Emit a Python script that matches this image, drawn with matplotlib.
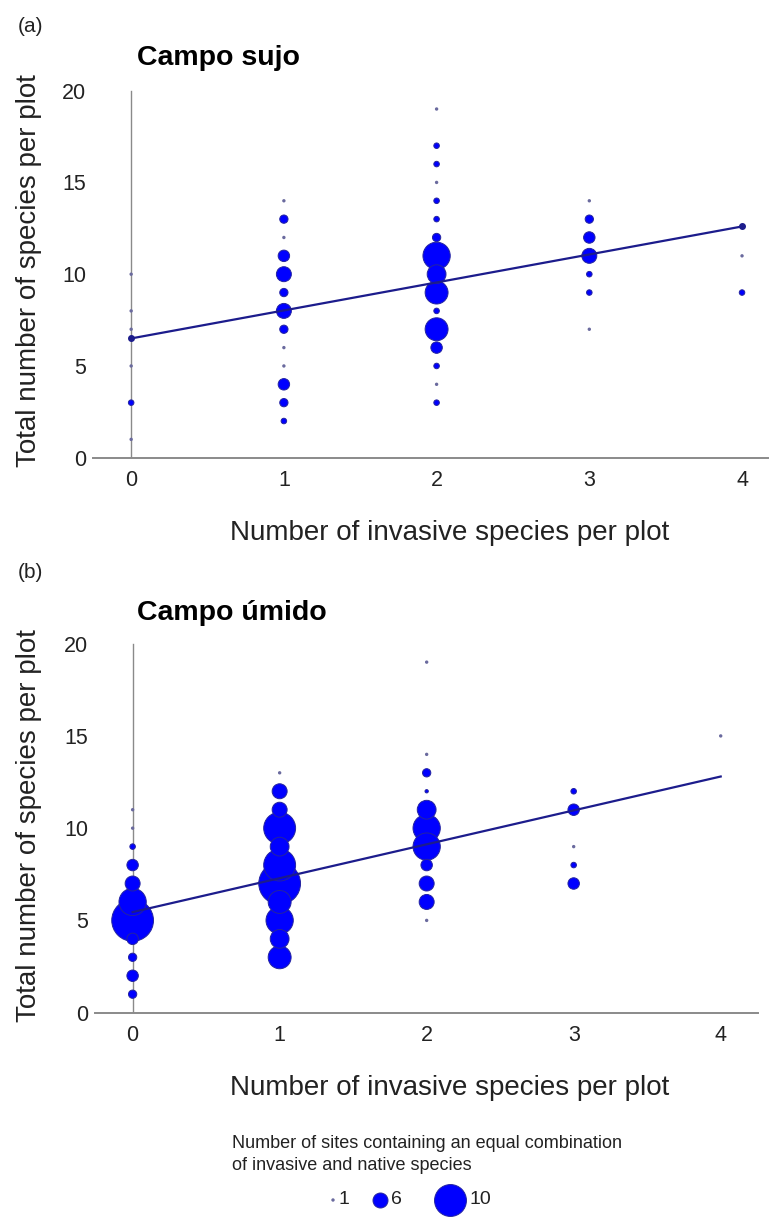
import matplotlib.pyplot as plt
import numpy as np

plt.rcParams['font.family'] = ['Liberation Sans', 'DejaVu Sans']

# panel (a): Campo sujo  -> invasive count, total species, number of sites
a_x = [0, 0, 0, 0, 0, 0,
       1, 1, 1, 1, 1, 1, 1, 1, 1, 1, 1, 1, 1,
       2, 2, 2, 2, 2, 2, 2, 2, 2, 2, 2, 2, 2, 2, 2, 2,
       3, 3, 3, 3, 3, 3, 3,
       4, 4]
a_y = [10, 8, 7, 5, 3, 1,
       14, 13, 12, 11, 10, 9, 8, 7, 6, 5, 4, 3, 2,
       19, 17, 16, 15, 14, 13, 12, 11, 10, 9, 8, 7, 6, 5, 4, 3,
       14, 13, 12, 11, 10, 9, 7,
       11, 9]
a_n = [1, 1, 1, 1, 3, 1,
       1, 4, 1, 5, 6, 4, 6, 4, 1, 1, 5, 4, 3,
       1, 3, 3, 1, 3, 3, 4, 9, 7, 8, 3, 8, 5, 3, 1, 3,
       1, 4, 5, 6, 3, 3, 1,
       1, 3]
a_fit = [6.5, 12.6]   # fitted line at x = 0 and x = 4

# panel (b): Campo úmido
b_x = [0, 0, 0, 0, 0, 0, 0, 0, 0, 0, 0,
       1, 1, 1, 1, 1, 1, 1, 1, 1, 1, 1,
       2, 2, 2, 2, 2, 2, 2, 2, 2, 2, 2,
       3, 3, 3, 3, 3,
       4]
b_y = [11, 10, 9, 8, 7, 6, 5, 4, 3, 2, 1,
       13, 12, 11, 10, 9, 8, 7, 6, 5, 4, 3,
       19, 14, 13, 12, 11, 10, 9, 8, 7, 6, 5,
       12, 11, 9, 8, 7,
       15]
b_n = [1, 1, 3, 5, 6, 9, 12, 5, 4, 5, 4,
       1, 6, 6, 10, 7, 10, 12, 8, 9, 7, 8,
       1, 1, 4, 2, 7, 9, 9, 5, 6, 6, 1,
       3, 5, 1, 3, 5,
       1]
b_fit = [5.45, 12.8]

fit_x = [0, 4]
legend_n = [1, 6, 10]

blue = '#0000ff'
edge = '#2424a0'
small_col = '#6a6a9e'
line_col = '#1c1c8c'


def diam_px(n):
    n = np.asarray(n, dtype=float)
    d = 2 + 1.32 * (n - 1) ** 1.42
    return np.where(n <= 1, 3.4, d)


def marker_area(n):
    return (diam_px(n) * 0.72) ** 2


def draw_panel(ax, xs, ys, ns, fit, xlim, end_dots):
    xs = np.array(xs)
    ys = np.array(ys)
    ns = np.array(ns)
    order = np.argsort(-ns)
    xs, ys, ns = xs[order], ys[order], ns[order]
    big = ns > 1
    ax.plot([0, 0], [0, 20], color='#8a8a8a', lw=1.0, zorder=1)
    ax.scatter(xs[big], ys[big], s=marker_area(ns[big]), color=blue,
               edgecolor=edge, linewidth=0.7, zorder=3)
    ax.scatter(xs[~big], ys[~big], s=marker_area(ns[~big]), color=small_col,
               linewidth=0, zorder=3)
    ax.plot(fit_x, fit, color=line_col, lw=1.6, zorder=4,
            marker='o' if end_dots else None, ms=4)
    ax.set_xlim(*xlim)
    ax.set_ylim(0, 20.5)
    ax.set_xticks([0, 1, 2, 3, 4])
    ax.set_yticks([0, 5, 10, 15, 20])
    for s in ['top', 'right', 'left']:
        ax.spines[s].set_visible(False)
    ax.spines['bottom'].set_color('#8a8a8a')
    ax.spines['bottom'].set_linewidth(1.4)
    ax.tick_params(length=0, labelsize=15.5, colors='#222222', pad=5)
    ax.tick_params(axis='x', pad=9)


fig = plt.figure(figsize=(7.71, 12.18), dpi=100)

ax_a = fig.add_axes([0.1206, 0.6242, 0.8755, 0.3089])
draw_panel(ax_a, a_x, a_y, a_n, a_fit, (-0.25, 4.17), True)
ax_b = fig.add_axes([0.1232, 0.1686, 0.86, 0.3105])
draw_panel(ax_b, b_x, b_y, b_n, b_fit, (-0.256, 4.254), False)

H = 1218.0
fig.text(18 / 771, 1 - 27 / H, '(a)', fontsize=15, va='center', color='#222222')
fig.text(137 / 771, 1 - 65 / H, 'Campo sujo', fontsize=20.5, fontweight='bold', va='baseline')
fig.text(450 / 771, 1 - 533 / H, 'Number of invasive species per plot', fontsize=20,
         ha='center', va='center', color='#222222')
fig.text(29 / 771, 1 - 271 / H, 'Total number of species per plot', fontsize=20,
         rotation=90, ha='center', va='center', color='#222222')

fig.text(18 / 771, 1 - 572 / H, '(b)', fontsize=15, va='center', color='#222222')
fig.text(137 / 771, 1 - 620 / H, 'Campo úmido', fontsize=20.5, fontweight='bold', va='baseline')
fig.text(450 / 771, 1 - 1088 / H, 'Number of invasive species per plot', fontsize=20,
         ha='center', va='center', color='#222222')
fig.text(29 / 771, 1 - 826 / H, 'Total number of species per plot', fontsize=20,
         rotation=90, ha='center', va='center', color='#222222')

# size legend
fig.text(232 / 771, 1 - 1144 / H, 'Number of sites containing an equal combination',
         fontsize=13, va='center', color='#222222')
fig.text(232 / 771, 1 - 1166 / H, 'of invasive and native species',
         fontsize=13, va='center', color='#222222')
leg = fig.add_axes([0, 0, 1, 1], facecolor='none')
leg.set_xlim(0, 771)
leg.set_ylim(H, 0)
leg.axis('off')
leg_x = [333, 380, 450]
leg_y = 1200
for lx, n in zip(leg_x, legend_n):
    c = small_col if n == 1 else blue
    leg.scatter([lx], [leg_y], s=marker_area(n), color=c,
                edgecolor=edge if n > 1 else 'none', linewidth=0.7)
    r = float(diam_px(n)) / 2
    leg.text(lx + r + 4, leg_y, str(n), fontsize=14, va='center', color='#222222')

fig.savefig('out.png', dpi=100)
